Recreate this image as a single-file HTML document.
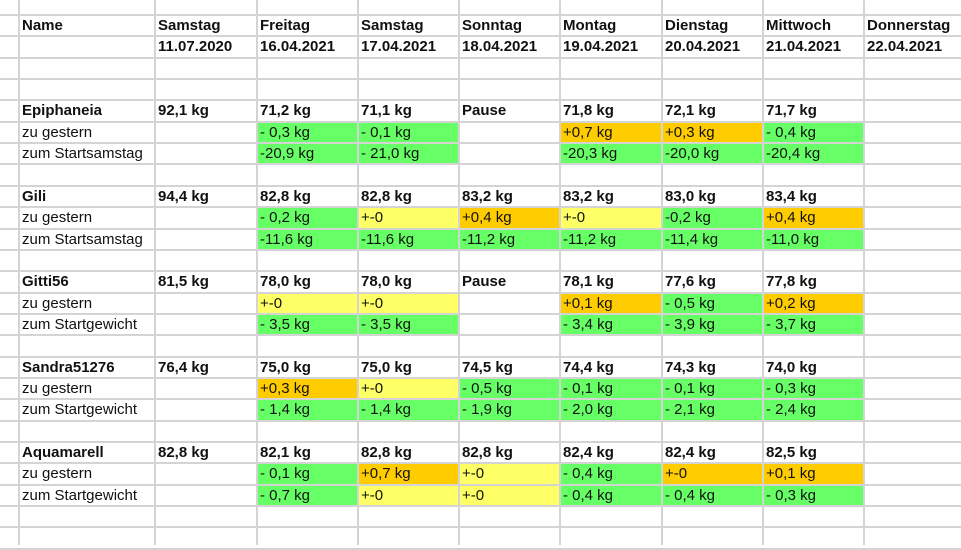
<!DOCTYPE html>
<html><head><meta charset="utf-8">
<style>
body{margin:0;width:961px;height:545px;overflow:hidden;background:#fff;font-family:"Liberation Sans",Arial,sans-serif;}
#sheet{position:relative;width:961px;height:545px;}
.c{position:absolute;box-sizing:border-box;font-size:15px;line-height:21px;padding-left:3px;white-space:nowrap;overflow:visible;color:#111;}
.b{font-weight:bold;}
.vl{position:absolute;top:0;height:545px;width:2px;background:#d4d4d4;}
.hl{position:absolute;left:0;width:961px;height:2px;background:#d4d4d4;}
</style></head><body>
<div id="sheet"></div>
<script>
const colX=[19,155,257,358,459,560,662,763,864,961];
const rowTop0=15, rowH=21.35;
const headers=["Name","Samstag","Freitag","Samstag","Sonntag","Montag","Dienstag","Mittwoch","Donnerstag"];
const dates=["","11.07.2020","16.04.2021","17.04.2021","18.04.2021","19.04.2021","20.04.2021","21.04.2021","22.04.2021"];
const G="#66ff66",Y="#ffff66",O="#ffcc00";
const people=[
 {name:"Epiphaneia",start:"92,1 kg",w:["71,2 kg","71,1 kg","Pause","71,8 kg","72,1 kg","71,7 kg"],l1:"zu gestern",d1:["- 0,3 kg","- 0,1 kg","","+0,7 kg","+0,3 kg","- 0,4 kg"],c1:[G,G,"",O,O,G],l2:"zum Startsamstag",d2:["-20,9 kg","- 21,0 kg","","-20,3 kg","-20,0 kg","-20,4 kg"],c2:[G,G,"",G,G,G]},
 {name:"Gili",start:"94,4 kg",w:["82,8 kg","82,8 kg","83,2 kg","83,2 kg","83,0 kg","83,4 kg"],l1:"zu gestern",d1:["- 0,2 kg","+-0","+0,4 kg","+-0","-0,2 kg","+0,4 kg"],c1:[G,Y,O,Y,G,O],l2:"zum Startsamstag",d2:["-11,6 kg","-11,6 kg","-11,2 kg","-11,2 kg","-11,4 kg","-11,0 kg"],c2:[G,G,G,G,G,G]},
 {name:"Gitti56",start:"81,5 kg",w:["78,0 kg","78,0 kg","Pause","78,1 kg","77,6 kg","77,8 kg"],l1:"zu gestern",d1:["+-0","+-0","","+0,1 kg","- 0,5 kg","+0,2 kg"],c1:[Y,Y,"",O,G,O],l2:"zum Startgewicht",d2:["- 3,5 kg","- 3,5 kg","","- 3,4 kg","- 3,9 kg","- 3,7 kg"],c2:[G,G,"",G,G,G]},
 {name:"Sandra51276",start:"76,4 kg",w:["75,0 kg","75,0 kg","74,5 kg","74,4 kg","74,3 kg","74,0 kg"],l1:"zu gestern",d1:["+0,3 kg","+-0","- 0,5 kg","- 0,1 kg","- 0,1 kg","- 0,3 kg"],c1:[O,Y,G,G,G,G],l2:"zum Startgewicht",d2:["- 1,4 kg","- 1,4 kg","- 1,9 kg","- 2,0 kg","- 2,1 kg","- 2,4 kg"],c2:[G,G,G,G,G,G]},
 {name:"Aquamarell",start:"82,8 kg",w:["82,1 kg","82,8 kg","82,8 kg","82,4 kg","82,4 kg","82,5 kg"],l1:"zu gestern",d1:["- 0,1 kg","+0,7 kg","+-0","- 0,4 kg","+-0","+0,1 kg"],c1:[G,O,Y,G,O,O],l2:"zum Startgewicht",d2:["- 0,7 kg","+-0","+-0","- 0,4 kg","- 0,4 kg","- 0,3 kg"],c2:[G,Y,Y,G,G,G]}
];
const sheet=document.getElementById('sheet');
function rt(r){return Math.round(rowTop0+rowH*r);}
function cell(r,c,txt,bold,bg,name){
  const d=document.createElement('div');
  d.className='c'+(bold?' b':'');
  const x0=colX[c], x1=colX[c+1];
  d.style.left=x0+'px';d.style.width=(x1-x0)+'px';
  d.style.top=rt(r)+'px';d.style.height=(rt(r+1)-rt(r))+'px';
  if(bg)d.style.background=bg;
  d.textContent=txt;
  
  
  sheet.appendChild(d);
}
headers.forEach((h,i)=>cell(0,i,h,true,"","header-"+i));
dates.forEach((h,i)=>{if(h)cell(1,i,h,true,"","date-"+i);});
people.forEach((p,k)=>{
  const r=4+k*4;
  cell(r,0,p.name,true,"","name-"+p.name.toLowerCase());
  cell(r,1,p.start,true,"","start-weight");
  p.w.forEach((v,i)=>cell(r,2+i,v,true,"","weight"));
  cell(r+1,0,p.l1,false,"","label-zu-gestern");
  p.d1.forEach((v,i)=>cell(r+1,2+i,v,false,p.c1[i],"diff-yesterday"));
  cell(r+2,0,p.l2,false,"","label-zum-start");
  p.d2.forEach((v,i)=>cell(r+2,2+i,v,false,p.c2[i],"diff-start"));
});
for(let r=0;r<26;r++){
  const l=document.createElement('div');l.className='hl';l.style.top=(rt(r)-1)+'px';
  
  
  sheet.appendChild(l);
}
colX.slice(0,9).forEach(x=>{
  const l=document.createElement('div');l.className='vl';l.style.left=(x-1)+'px';
  
  
  sheet.appendChild(l);
});
</script>
</body></html>
